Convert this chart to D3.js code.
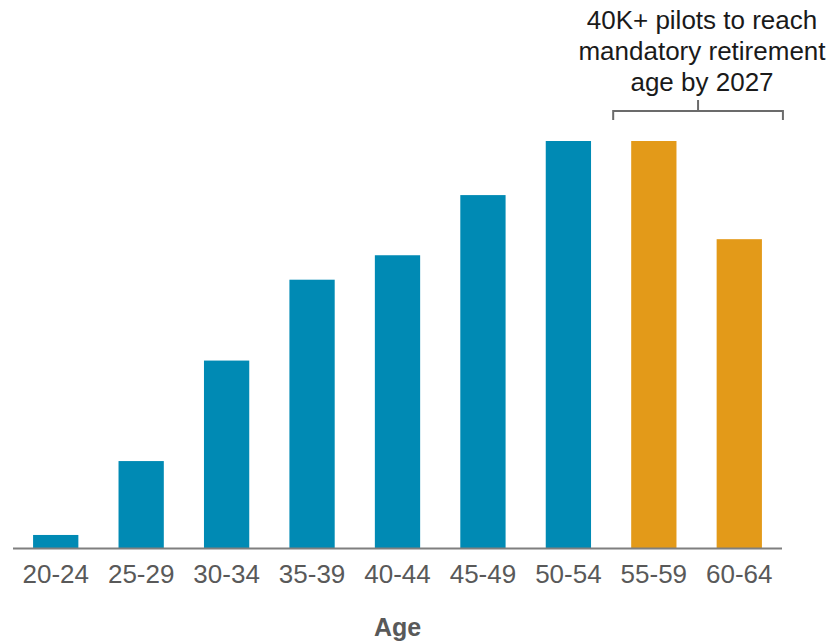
<!DOCTYPE html>
<html>
<head>
<meta charset="utf-8">
<script src="https://cdn.jsdelivr.net/npm/d3@7"></script>
<style>
  html, body { margin: 0; padding: 0; background: #ffffff; }
  svg { display: block; font-family: "Liberation Sans", Arial, Helvetica, sans-serif; }
</style>
</head>
<body>
<svg id="chart" width="836" height="643"></svg>
<script>
// Age bands of active pilots
const ageGroups = ["20-24", "25-29", "30-34", "35-39", "40-44", "45-49", "50-54", "55-59", "60-64"];
// Number of pilots in each band
const pilotCounts = [730, 4870, 10500, 15030, 16400, 19770, 22800, 22800, 17300];
// Bands approaching mandatory retirement age
const retiringGroups = ["55-59", "60-64"];
const annotationLines = ["40K+ pilots to reach", "mandatory retirement", "age by 2027"];
const axisTitle = "Age";

const svg = d3.select("#chart");
const left = 13, right = 782, baseline = 548, topY = 141;

const x = d3.scaleBand()
  .domain(ageGroups)
  .range([left, right])
  .paddingInner(0.47)
  .paddingOuter(0.235);

const y = d3.scaleLinear()
  .domain([0, d3.max(pilotCounts)])
  .range([baseline, topY]);

const data = ageGroups.map((g, i) => ({ group: g, value: pilotCounts[i] }));

// Bars
svg.append("g")
  .selectAll("rect")
  .data(data)
  .join("rect")
  .attr("x", d => x(d.group))
  .attr("y", d => y(d.value))
  .attr("width", x.bandwidth())
  .attr("height", d => y(0) - y(d.value))
  .attr("fill", d => retiringGroups.includes(d.group) ? "#e39a19" : "#008ab4");

// Category axis
const xAxis = svg.append("g")
  .attr("transform", `translate(0,${baseline})`)
  .call(d3.axisBottom(x).tickSize(0).tickPadding(0));
xAxis.select(".domain")
  .attr("d", `M${left},0.5H${right}`)
  .attr("stroke", "#7f7f7f")
  .attr("stroke-width", 2);
xAxis.selectAll(".tick text")
  .attr("dy", null)
  .attr("y", 35)
  .attr("font-size", 26)
  .attr("font-family", "\"Liberation Sans\", Arial, sans-serif")
  .attr("fill", "#595959");

// Axis title
svg.append("text")
  .attr("x", (left + right) / 2)
  .attr("y", 636)
  .attr("text-anchor", "middle")
  .attr("font-size", 25)
  .attr("font-weight", "bold")
  .attr("fill", "#595959")
  .text(axisTitle);

// Bracket over the retiring bands
const bx0 = x(retiringGroups[0]) - 18;
const bx1 = x(retiringGroups[retiringGroups.length - 1]) + x.bandwidth() + 21;
const bmid = (bx0 + bx1) / 2;
svg.append("path")
  .attr("d", `M${bx0},120V111H${bx1}V120M${bmid},111V100`)
  .attr("fill", "none")
  .attr("stroke", "#6b6b6b")
  .attr("stroke-width", 2);

// Annotation text
const note = svg.append("text")
  .attr("text-anchor", "middle")
  .attr("font-size", 26)
  .attr("fill", "#1a1a1a");
annotationLines.forEach((line, i) => {
  note.append("tspan")
    .attr("x", 702)
    .attr("y", 28.5 + i * 31)
    .text(line);
});
</script>
</body>
</html>
